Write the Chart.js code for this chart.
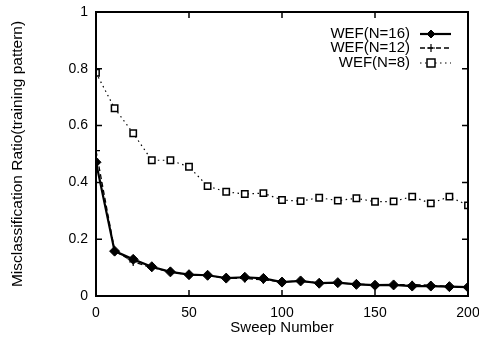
<!DOCTYPE html>
<html>
<head>
<meta charset="utf-8">
<script src="https://cdn.jsdelivr.net/npm/chart.js@4/dist/chart.umd.min.js"></script>
<style>
html,body{margin:0;padding:0;background:#fff;}
#wrap{position:relative;width:479px;height:337px;}
</style>
</head>
<body>
<div id="wrap"><canvas id="c" width="479" height="337"></canvas></div>
<script>
const sweeps = [0,10,20,30,40,50,60,70,80,90,100,110,120,130,140,150,160,170,180,190,200];
const n16 = [0.471,0.158,0.129,0.103,0.085,0.075,0.073,0.063,0.066,0.062,0.049,0.053,0.045,0.047,0.041,0.038,0.039,0.035,0.035,0.033,0.031];
const n12 = [0.512,0.160,0.120,0.100,0.085,0.075,0.072,0.063,0.062,0.057,0.050,0.052,0.046,0.046,0.042,0.039,0.040,0.040,0.038,0.033,0.030];
const n8  = [0.786,0.661,0.573,0.478,0.478,0.455,0.387,0.367,0.359,0.362,0.338,0.334,0.346,0.336,0.344,0.332,0.333,0.350,0.326,0.350,0.319];
const labels = ['WEF(N=16)','WEF(N=12)','WEF(N=8)'];
const xTicks = [0,50,100,150,200];
const yTicks = [0,0.2,0.4,0.6,0.8,1];

const FONT = 'Liberation Sans, Arial, Helvetica, sans-serif';
const pts = arr => sweeps.map((s,i)=>({x:s,y:arr[i]}));

const boxPlugin = {
  id:'box',
  afterDraw(chart){
    const {ctx, chartArea:a, scales:{x,y}} = chart;
    ctx.save();
    ctx.strokeStyle='#000';
    ctx.lineWidth=2;
    ctx.strokeRect(a.left,a.top,a.right-a.left,a.bottom-a.top);
    ctx.lineWidth=1.5;
    const t=6;
    xTicks.forEach(v=>{
      const px=x.getPixelForValue(v);
      ctx.beginPath();ctx.moveTo(px,a.bottom);ctx.lineTo(px,a.bottom-t);
      ctx.moveTo(px,a.top);ctx.lineTo(px,a.top+t);ctx.stroke();
    });
    yTicks.forEach(v=>{
      const py=y.getPixelForValue(v);
      ctx.beginPath();ctx.moveTo(a.left,py);ctx.lineTo(a.left+t,py);
      ctx.moveTo(a.right,py);ctx.lineTo(a.right-t,py);ctx.stroke();
    });
    // legend
    ctx.font='15px '+FONT;
    ctx.fillStyle='#000';
    ctx.textAlign='right';
    ctx.textBaseline='middle';
    const rows=[34,48,63];
    chart.data.datasets.forEach((ds,i)=>{
      const ry=rows[i];
      ctx.fillText(ds.label,410,ry);
      ctx.save();
      ctx.strokeStyle='#000';
      ctx.lineWidth=ds.borderWidth;
      ctx.setLineDash(ds.borderDash||[]);
      ctx.beginPath();ctx.moveTo(420,ry);ctx.lineTo(451,ry);ctx.stroke();
      ctx.restore();
      ctx.save();
      ctx.lineWidth=ds.pointBorderWidth||1;
      ctx.strokeStyle='#000';
      ctx.fillStyle=ds.pointBackgroundColor;
      const cx=431;
      if(ds.pointStyle==='rectRot'){
        ctx.beginPath();ctx.moveTo(cx,ry-4);ctx.lineTo(cx+4,ry);ctx.lineTo(cx,ry+4);ctx.lineTo(cx-4,ry);ctx.closePath();ctx.fill();ctx.stroke();
      } else if(ds.pointStyle==='cross'){
        ctx.beginPath();ctx.moveTo(cx-4,ry);ctx.lineTo(cx+4,ry);ctx.moveTo(cx,ry-4);ctx.lineTo(cx,ry+4);ctx.stroke();
      } else {
        ctx.fillStyle='#fff';ctx.fillRect(cx-4,ry-4,8,8);ctx.strokeRect(cx-4,ry-4,8,8);
      }
      ctx.restore();
    });
    ctx.restore();
  }
};

new Chart(document.getElementById('c'),{
  type:'line',
  data:{datasets:[
    {label:labels[0],data:pts(n16),borderColor:'#000',borderWidth:2.2,pointStyle:'rectRot',pointRadius:5,pointBackgroundColor:'#000',pointBorderColor:'#000',pointBorderWidth:1,tension:0},
    {label:labels[1],data:pts(n12),borderColor:'#000',borderWidth:1.3,borderDash:[5,3],pointStyle:'cross',pointRadius:4,pointBackgroundColor:'#000',pointBorderColor:'#000',pointBorderWidth:1.2,tension:0},
    {label:labels[2],data:pts(n8),borderColor:'#000',borderWidth:1.2,borderDash:[1.5,3.5],pointStyle:'rect',pointRadius:4.5,pointBackgroundColor:'#fff',pointBorderColor:'#000',pointBorderWidth:1.5,tension:0}
  ]},
  options:{
    responsive:false,animation:false,
    layout:{padding:{left:0,top:12,right:11,bottom:0}},
    plugins:{legend:{display:false},tooltip:{enabled:false}},
    scales:{
      x:{type:'linear',min:0,max:200,
        afterBuildTicks(s){s.ticks=xTicks.map(v=>({value:v}));},
        afterFit(s){s.height=41;s.paddingRight=0;s.paddingLeft=0;},
        grid:{display:false,drawTicks:false},border:{display:false},
        ticks:{color:'#000',font:{family:FONT,size:14},padding:9,maxRotation:0,callback:v=>String(v)},
        title:{display:true,text:'Sweep Number',color:'#000',font:{family:FONT,size:15},padding:{top:-3,bottom:0}}
      },
      y:{type:'linear',min:0,max:1,
        afterBuildTicks(s){s.ticks=yTicks.map(v=>({value:v}));},
        afterFit(s){s.width=96;s.paddingTop=0;s.paddingBottom=0;},
        grid:{display:false,drawTicks:false},border:{display:false},
        ticks:{color:'#000',font:{family:FONT,size:14},padding:8,callback:v=>String(Math.round(v*10)/10)},
        title:{display:true,text:'Misclassification Ratio(training pattern)',color:'#000',font:{family:FONT,size:15.5},padding:{top:8,bottom:0}}
      }
    }
  },
  plugins:[boxPlugin]
});
</script>
</body>
</html>
